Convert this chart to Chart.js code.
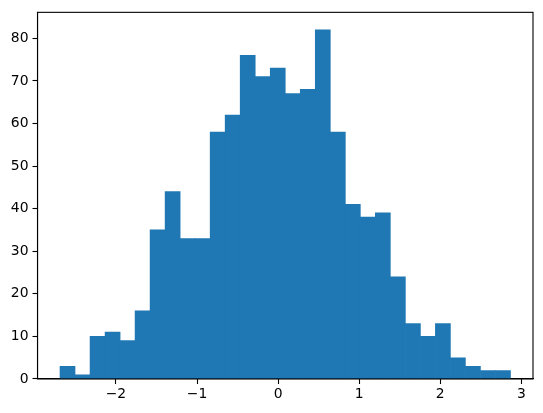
<!DOCTYPE html>
<html>
<head>
<meta charset="utf-8">
<script src="https://cdn.jsdelivr.net/npm/chart.js@4.4.1/dist/chart.umd.min.js"></script>
<style>
html,body{margin:0;padding:0;background:#fff;}
canvas{display:block;}
</style>
</head>
<body>
<canvas id="c" width="543" height="413"></canvas>
<script>
// Histogram bin edges (31 edges -> 30 bins)
const binEdges = [-2.690,-2.505,-2.320,-2.134,-1.949,-1.764,-1.579,-1.394,-1.208,-1.023,
  -0.838,-0.653,-0.468,-0.282,-0.097,0.088,0.273,0.458,0.644,0.829,
  1.014,1.199,1.384,1.570,1.755,1.940,2.125,2.310,2.496,2.681,2.866];
// Counts per bin
const counts = [3,1,10,11,9,16,35,44,33,33,58,62,76,71,73,67,68,82,58,41,38,39,24,13,10,13,5,3,2,2];
// Tick labels
const xTicks = [-2,-1,0,1,2,3];
const yTicks = [0,10,20,30,40,50,60,70,80];

const barData = counts.map((c,i)=>({x:(binEdges[i]+binEdges[i+1])/2, y:c}));
const span = binEdges[binEdges.length-1]-binEdges[0];
const xMin = binEdges[0]-0.05*span, xMax = binEdges[binEdges.length-1]+0.05*span;
const yMax = Math.max(...counts)*1.05;

const frame = {
  id:'frame',
  afterDraw(chart){
    const a = chart.chartArea, ctx = chart.ctx;
    ctx.save();
    ctx.strokeStyle='#000'; ctx.lineWidth=1.1;
    ctx.strokeRect(a.left, a.top, a.right-a.left, a.bottom-a.top);
    ctx.restore();
  }
};

const font = {family:'"DejaVu Sans", sans-serif', size:13.9};
new Chart(document.getElementById('c'),{
  type:'bar',
  data:{datasets:[{data:barData, backgroundColor:'#1f77b4', borderWidth:0,
    barPercentage:1, categoryPercentage:1, grouped:false}]},
  options:{
    responsive:false, animation:false,
    layout:{padding:{left:0,top:8.2,right:10,bottom:0}},
    plugins:{legend:{display:false}, tooltip:{enabled:false}},
    scales:{
      x:{type:'linear', min:xMin, max:xMax, offset:false,
        afterBuildTicks(s){ s.ticks = xTicks.map(v=>({value:v})); },
        afterFit(s){ s.height = 34; },
        ticks:{font, color:'#000', padding:2, maxRotation:0, autoSkip:false,
          callback:v=> (v<0?'\u2212'+Math.abs(v):String(v))},
        grid:{offset:false, drawOnChartArea:false, tickLength:5, tickColor:'#000', tickWidth:1.1},
        border:{display:true, color:'#000', width:1.1}
      },
      y:{type:'linear', min:0, max:yMax,
        afterBuildTicks(s){ s.ticks = yTicks.map(v=>({value:v})); },
        afterFit(s){ s.width = 37.5; },
        ticks:{font, color:'#000', padding:4, autoSkip:false},
        grid:{offset:false, drawOnChartArea:false, tickLength:5, tickColor:'#000', tickWidth:1.1},
        border:{display:true, color:'#000', width:1.1}
      }
    }
  },
  plugins:[frame]
});
</script>
</body>
</html>
